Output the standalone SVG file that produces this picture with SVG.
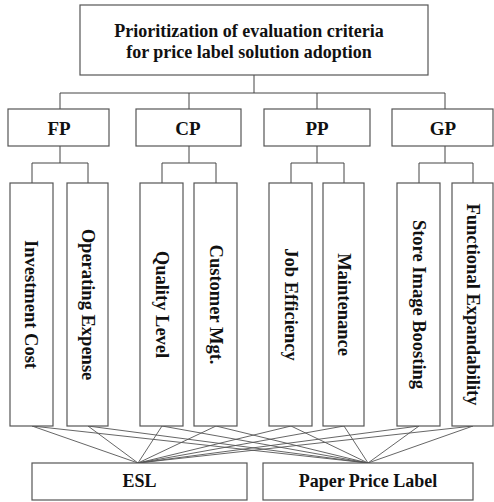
<svg xmlns="http://www.w3.org/2000/svg" width="494" height="502" viewBox="0 0 494 502">
<style>
.box{fill:#fff;stroke:#555;stroke-width:1.2}
.t{font-family:"Liberation Serif","Times New Roman",serif;font-weight:bold;font-size:18px;fill:#111;text-anchor:middle}
.l2{font-size:19px}
.v{font-family:"Liberation Serif","Times New Roman",serif;font-weight:bold;font-size:18.5px;fill:#111;text-anchor:middle}
.c{fill:none;stroke:#444;stroke-width:1}
.c2{fill:none;stroke:#555;stroke-width:0.9}
</style>
<rect width="494" height="502" fill="#fff"/>
<g id="connectors">
<path class="c" d="M254 75V93M60 93H445M60 93V109M189 93V109M317 93V109M445 93V109"/>
<path class="c" d="M60 146V163M32 163H88M32 163V183M88 163V183"/>
<path class="c" d="M189 146V163M162 163H216M162 163V183M216 163V183"/>
<path class="c" d="M317 146V163M291 163H344M291 163V183M344 163V183"/>
<path class="c" d="M445 146V163M419 163H473M419 163V183M473 163V183"/>
<path class="c2" d="M32 426L138 463M88 426L138 463M162 426L138 463M216 426L138 463M291 426L138 463M344 426L138 463M419 426L138 463M473 426L138 463"/>
<path class="c2" d="M32 426L368 463M88 426L368 463M162 426L368 463M216 426L368 463M291 426L368 463M344 426L368 463M419 426L368 463M473 426L368 463"/>
</g>
<g id="goal">
<rect class="box" x="80" y="5" width="348" height="70"/>
<text class="t" x="249" y="37">Prioritization of evaluation criteria</text>
<text class="t" x="249" y="58">for price label solution adoption</text>
</g>
<g id="FP"><rect class="box" x="8" y="109" width="101" height="37"/><text class="t l2" x="59" y="134.5">FP</text></g>
<g id="CP"><rect class="box" x="136" y="109" width="105" height="37"/><text class="t l2" x="188" y="134.5">CP</text></g>
<g id="PP"><rect class="box" x="264" y="109" width="106" height="37"/><text class="t l2" x="317" y="134.5">PP</text></g>
<g id="GP"><rect class="box" x="392" y="109" width="101" height="37"/><text class="t l2" x="443" y="134.5">GP</text></g>
<g id="investment-cost"><rect class="box" x="10" y="183" width="43" height="243"/><text class="v" transform="translate(30.5 304.5) rotate(90)" y="6">Investment  Cost</text></g>
<g id="operating-expense"><rect class="box" x="67" y="183" width="41" height="243"/><text class="v" transform="translate(87.5 304.5) rotate(90)" y="6">Operating Expense</text></g>
<g id="quality-level"><rect class="box" x="140" y="183" width="43" height="243"/><text class="v" transform="translate(161.5 304.5) rotate(90)" y="6">Quality Level</text></g>
<g id="customer-mgt"><rect class="box" x="194" y="183" width="43" height="243"/><text class="v" transform="translate(215.5 304.5) rotate(90)" y="6">Customer Mgt.</text></g>
<g id="job-efficiency"><rect class="box" x="269" y="183" width="43" height="243"/><text class="v" transform="translate(290.5 304.5) rotate(90)" y="6">Job Efficiency</text></g>
<g id="maintenance"><rect class="box" x="323" y="183" width="41" height="243"/><text class="v" transform="translate(343.5 304.5) rotate(90)" y="6">Maintenance</text></g>
<g id="store-image"><rect class="box" x="397" y="183" width="43" height="243"/><text class="v" transform="translate(418.5 304.5) rotate(90)" y="6">Store Image Boosting</text></g>
<g id="functional"><rect class="box" x="452" y="183" width="41" height="243"/><text class="v" transform="translate(472.5 304.5) rotate(90)" y="6">Functional Expandability</text></g>
<g id="ESL"><rect class="box" x="32" y="463" width="215" height="37"/><text class="t" x="139.5" y="487">ESL</text></g>
<g id="paper"><rect class="box" x="263" y="463" width="210" height="37"/><text class="t" x="368" y="487">Paper Price Label</text></g>
</svg>
